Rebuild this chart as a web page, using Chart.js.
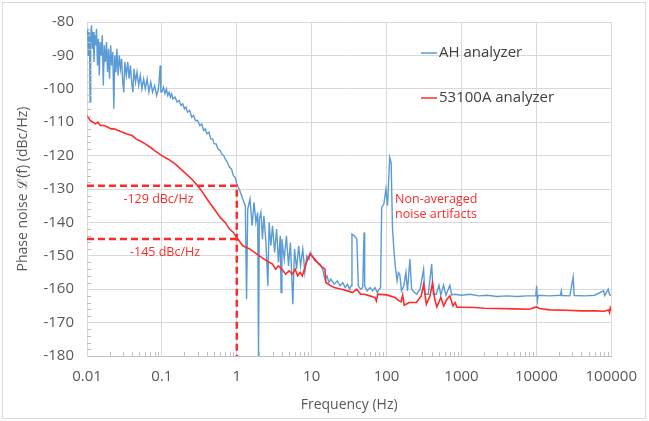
<!DOCTYPE html>
<html>
<head>
<meta charset="utf-8">
<script src="https://cdn.jsdelivr.net/npm/chart.js@4"></script>
<style>
  body { margin: 0; background: #fff; }
  canvas { display: block; }
</style>
</head>
<body>
<canvas id="chart" width="649" height="421"></canvas>
<script>
// AH analyzer trace (frequency in Hz, level in dBc/Hz)
const ahFreq = [
  0.0100, 0.0102, 0.0104, 0.0106, 0.0108, 0.0110, 0.0112, 0.0115, 0.0118, 0.0121,
  0.0124, 0.0127, 0.0130, 0.0134, 0.0138, 0.0142, 0.0146, 0.0150, 0.0155, 0.0160,
  0.0165, 0.0170, 0.0176, 0.0182, 0.0188, 0.0194, 0.0200, 0.0207, 0.0214, 0.0221,
  0.0228, 0.0235, 0.0243, 0.0251, 0.0260, 0.0270, 0.0280, 0.0290, 0.0300, 0.0310,
  0.0320, 0.0335, 0.0350, 0.0365, 0.0380, 0.0395, 0.0410, 0.0425, 0.0445, 0.0465,
  0.0490, 0.0515, 0.0540, 0.0570, 0.0600, 0.0635, 0.0670, 0.0710, 0.0750, 0.0800,
  0.0850, 0.0900, 0.0950, 0.0970,
  0.100, 0.105, 0.110, 0.115, 0.120, 0.125, 0.130, 0.135, 0.140, 0.150,
  0.160, 0.170, 0.180, 0.190, 0.200, 0.210, 0.220, 0.235, 0.250, 0.265,
  0.280, 0.300, 0.320, 0.340, 0.360, 0.380, 0.400, 0.425, 0.450, 0.475,
  0.500, 0.530, 0.560, 0.600, 0.630, 0.670, 0.700, 0.750, 0.800, 0.850,
  0.900, 0.950, 1.0, 1.1, 1.2, 1.3, 1.35,
  1.4, 1.5, 1.6, 1.7, 1.8, 1.9, 1.95, 2.0, 2.1, 2.2,
  2.3, 2.45, 2.6, 2.7, 2.85, 3.0, 3.2, 3.4, 3.6, 3.8,
  3.9, 4.0, 4.3, 4.6, 4.9, 5.2, 5.6, 5.9, 6.3, 6.7,
  7.1, 7.6, 8.1, 8.6, 9.2, 9.6, 10.2, 11, 12, 13,
  14, 15, 16, 17, 18, 20, 22, 24, 26, 28,
  30, 32, 33.5, 34.5, 37, 40, 42, 45, 48, 50,
  51, 55, 60, 65, 70, 75, 80, 83, 86, 92,
  98, 103, 110, 115, 120, 126, 132, 138, 144, 150,
  158, 170, 181, 190, 205, 216, 235, 252, 280, 312,
  325, 360, 400, 420, 460, 500, 530, 575, 620, 700,
  740, 800, 1000, 1300, 1700, 2200, 3000, 4000, 5500, 7500,
  9800, 10100, 10300, 10600, 15000, 21000, 21500, 22000, 28000, 31000,
  32000, 45000, 60000, 79000, 82000, 91000, 95000, 100000
];
const ahLevel = [
  -84, -82, -90, -83, -86, -104, -84, -81, -88, -83,
  -92, -84, -87, -82, -93, -85, -96, -86, -90, -84,
  -99, -87, -92, -86, -95, -88, -97, -87, -93, -89,
  -106, -90, -95, -88, -96, -90, -94, -91, -98, -101,
  -92, -96, -92, -97, -93, -98, -101, -94, -98, -95,
  -99, -96, -100, -97, -100, -97, -101, -98, -101, -99,
  -102, -100, -93, -101,
  -101, -99.5, -101.5, -100, -102, -101, -102.5, -101.5, -103, -102.5,
  -104, -103.5, -105, -104.5, -106, -105.5, -107, -106.5, -108.5, -108,
  -109.5, -109.5, -111, -110.5, -112.5, -112, -113.5, -113, -115, -115,
  -116.5, -116.5, -118, -118.5, -119.5, -120, -121, -122, -123.5, -124,
  -126, -126.5, -128.5, -130.5, -133, -135, -163,
  -136, -133, -141, -134, -140, -137, -180, -139, -137, -145,
  -138, -146, -159, -140, -147, -141, -149, -142, -152, -144,
  -161, -145, -151, -144, -153, -146, -164.5, -148, -154, -147,
  -153, -148, -155, -150, -151, -149, -150, -151.5, -152, -152.5,
  -154, -157, -156, -158, -157, -158.5, -157.5, -159, -158, -159.5,
  -158.5, -160, -159, -143.5, -144, -145, -159, -160, -159.5, -143,
  -159, -160.5, -159.5, -160.5, -159.5, -161, -160, -159.5, -135.5, -134.5,
  -130, -135, -120.5, -122, -142, -149, -154, -157.5, -155, -155.5,
  -160.5, -159, -155, -160.5, -151, -160, -161, -161.5, -160, -154,
  -161.5, -161.5, -152.5, -161.5, -161.5, -158.8, -161.8, -158.8, -161.8, -158.8,
  -161.7, -161.5, -161.8, -161.5, -162, -161.8, -162.2, -162, -162.2, -162,
  -162, -159, -163.5, -161.8, -162, -161.8, -160.5, -161.9, -162, -156.4,
  -161.9, -162, -161.8, -160.5, -161.9, -160, -161.7, -161.8
];

// 53100A analyzer trace
const hpFreq = [
  0.01, 0.011, 0.012, 0.013, 0.014, 0.015, 0.017, 0.019, 0.021, 0.023,
  0.026, 0.03, 0.034, 0.04, 0.045, 0.05, 0.06, 0.07, 0.08, 0.1,
  0.12, 0.15, 0.2, 0.25, 0.3, 0.35, 0.4, 0.5, 0.6, 0.7,
  0.8, 0.9, 1.0, 1.2, 1.5, 2.0, 2.5, 3.0, 3.3, 3.6,
  4.0, 4.5, 5.0, 5.5, 6.0, 6.5, 7.0, 7.5, 8.0, 8.5,
  9.5, 11, 12.5, 14, 15, 15.5, 18, 20, 25, 30,
  35, 40, 45, 50, 60, 70, 73, 76, 100, 130,
  147, 156, 164, 172, 200, 250, 290, 312, 340, 380,
  410, 440, 470, 530, 580, 640, 700, 770, 820, 870,
  1000, 1500, 2000, 3000, 5000, 8000, 10000, 11000, 15000, 25000,
  40000, 60000, 80000, 92000, 95000, 97000, 100000
];
const hpLevel = [
  -108, -109.5, -110, -110.5, -110, -111, -111, -111.5, -112, -112,
  -112.5, -113, -113.5, -114, -115, -115.5, -116.5, -117.5, -118.5, -120,
  -121, -122.5, -125, -127, -129, -131, -133, -136, -138.5, -140,
  -142, -143, -144.5, -147, -148, -150, -151.5, -152.5, -154, -153,
  -154, -155.5, -154.5, -155.5, -154, -156, -155, -156, -154, -152,
  -149.5, -151, -152.5, -153.5, -154, -158, -159, -159.5, -160, -160.5,
  -161, -160, -161.5, -161.5, -162, -162.5, -163.5, -161.5, -161.7, -162.5,
  -163.5, -163.8, -161.8, -164.8, -164, -164, -162, -158.6, -164.5, -162,
  -158.1, -163, -165.3, -162.5, -165, -163, -162, -165, -164, -165.4,
  -165.4, -165.5, -165.7, -165.8, -165.9, -166, -165.3, -165.8, -166.2, -166.3,
  -166.5, -166.5, -166.6, -166.2, -167, -165.6, -166.4
];

// Marked levels at 1 Hz
const markFreq = [0.01, 1];
const markLevels = [-129, -145];
const markLabels = ['-129 dBc/Hz', '-145 dBc/Hz'];

const xTickValues = [0.01, 0.1, 1, 10, 100, 1000, 10000, 100000];
const xTickLabels = ['0.01', '0.1', '1', '10', '100', '1000', '10000', '100000'];

const seriesNames = ['AH analyzer', '53100A analyzer'];
const noteLines = ['Non-averaged', 'noise artifacts'];

const BLUE = '#5b9bd5';
const RED = '#ff2b2b';
const GRID = '#d9d9d9';
const TEXT = '#595959';
const FONT = "'Open Sans', sans-serif";

const toPoints = (xs, ys) => xs.map((x, i) => ({ x, y: ys[i] }));

// 外枠、凡例、注記
const decorPlugin = {
  id: 'decor',
  beforeDraw(chart) {
    const c = chart.ctx;
    c.save();
    c.strokeStyle = GRID;
    c.lineWidth = 1;
    c.strokeRect(2.5, 2.5, 643, 416);
    c.restore();
  },
  afterDatasetsDraw(chart) {
    const c = chart.ctx;
    const xs = chart.scales.x, ys = chart.scales.y;
    const area = chart.chartArea;
    c.save();

    // minor ticks
    c.strokeStyle = '#bfbfbf';
    c.lineWidth = 1;
    c.beginPath();
    for (let d = 0; d < xTickValues.length - 1; d++) {
      for (let m = 2; m < 10; m++) {
        const px = Math.round(xs.getPixelForValue(xTickValues[d] * m)) + 0.5;
        c.moveTo(px, area.bottom);
        c.lineTo(px, area.bottom - 4);
      }
    }
    for (let v = -178; v < -80; v += 2) {
      if (v % 10 === 0) continue;
      const py = Math.round(ys.getPixelForValue(v)) + 0.5;
      c.moveTo(area.left, py);
      c.lineTo(area.left + 4, py);
    }
    c.stroke();

    // legend
    c.font = '15px ' + FONT;
    c.textBaseline = 'middle';
    c.textAlign = 'left';
    [BLUE, RED].forEach((col, i) => {
      const y = i === 0 ? 53 : 98;
      c.strokeStyle = col;
      c.lineWidth = 1.5;
      c.beginPath();
      c.moveTo(421, y);
      c.lineTo(437, y);
      c.stroke();
      c.fillStyle = '#404040';
      c.fillText(seriesNames[i], 439, y);
    });

    // annotations
    c.fillStyle = RED;
    c.font = '12.5px ' + FONT;
    c.textAlign = 'center';
    c.fillText(markLabels[0], xs.getPixelForValue(0.09), ys.getPixelForValue(-133));
    c.fillText(markLabels[1], xs.getPixelForValue(0.11), ys.getPixelForValue(-149));
    c.textAlign = 'left';
    const nx = xs.getPixelForValue(130);
    c.fillText(noteLines[0], nx, ys.getPixelForValue(-133.2));
    c.fillText(noteLines[1], nx, ys.getPixelForValue(-137.6));
    c.restore();
  }
};

new Chart(document.getElementById('chart'), {
  type: 'line',
  data: {
    datasets: [
      {
        label: 'mark129',
        data: [{ x: markFreq[0], y: markLevels[0] }, { x: markFreq[1], y: markLevels[0] }, { x: markFreq[1], y: -180 }],
        borderColor: RED, borderWidth: 2.5, borderDash: [7, 4], pointRadius: 0, order: 0
      },
      {
        label: 'mark145',
        data: toPoints(markFreq, [markLevels[1], markLevels[1]]),
        borderColor: RED, borderWidth: 2.5, borderDash: [7, 4], pointRadius: 0, order: 0
      },
      {
        label: seriesNames[1],
        data: toPoints(hpFreq, hpLevel),
        borderColor: RED, borderWidth: 1.6, pointRadius: 0, order: 1
      },
      {
        label: seriesNames[0],
        data: toPoints(ahFreq, ahLevel),
        borderColor: BLUE, borderWidth: 1.4, pointRadius: 0, order: 2
      }
    ]
  },
  options: {
    responsive: false,
    animation: false,
    layout: { padding: { top: 17, right: 33, left: 0, bottom: 0 } },
    plugins: { legend: { display: false }, tooltip: { enabled: false } },
    scales: {
      x: {
        type: 'logarithmic',
        min: 0.01,
        max: 100000,
        afterBuildTicks: (scale) => { scale.ticks = xTickValues.map(v => ({ value: v })); },
        afterFit: (scale) => { scale.height = 65; },
        ticks: {
          autoSkip: false, maxRotation: 0, padding: 12,
          color: TEXT, font: { family: FONT, size: 15 },
          callback: (v) => xTickLabels[xTickValues.indexOf(v)]
        },
        grid: { color: GRID, drawTicks: false },
        border: { color: '#bfbfbf' },
        title: {
          display: true, text: 'Frequency (Hz)', color: TEXT,
          font: { family: FONT, size: 14 }, padding: { top: 0, bottom: 8 }
        }
      },
      y: {
        min: -180,
        max: -80,
        afterFit: (scale) => { scale.width = 87; },
        ticks: {
          stepSize: 10, padding: 13,
          color: TEXT, font: { family: FONT, size: 15 }
        },
        grid: { color: GRID, drawTicks: false },
        border: { color: GRID },
        title: {
          display: true, text: 'Phase noise ℒ(f) (dBc/Hz)', color: TEXT,
          font: { family: FONT, size: 14 }, padding: { top: 15, bottom: 0 }
        }
      }
    }
  },
  plugins: [decorPlugin]
});
</script>
</body>
</html>
